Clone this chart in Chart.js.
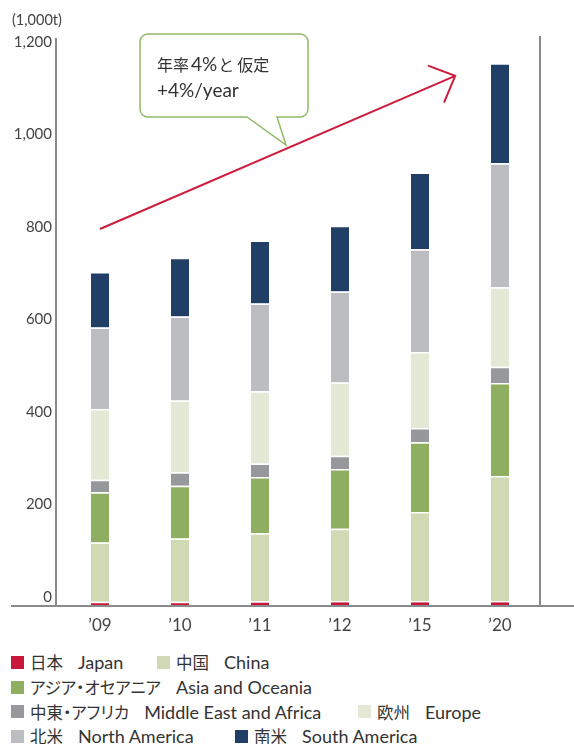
<!DOCTYPE html>
<html lang="ja">
<head>
<meta charset="utf-8">
<title>需要見通し</title>
<script src="https://cdn.jsdelivr.net/npm/chart.js@4.4.1/dist/chart.umd.min.js"></script>
<style>
    body {
        margin: 0;
        background: #fff;
        font-family: 'Lato', 'Noto Sans CJK JP', sans-serif;
        color: #333;
    }
    #grafico {
        position: relative;
        width: 574px;
        height: 645px;
    }
    #leyenda {
        position: absolute;
        left: 11px;
        top: 650px;
        width: 560px;
        font-size: 18px;
    }
    .fila {
        position: relative;
        height: 24.7px;
        white-space: nowrap;
    }
    .item {
        position: absolute;
        top: 0;
        height: 24.7px;
        display: flex;
        align-items: center;
    }
    .cuadro {
        width: 13px;
        height: 13px;
        margin-right: 6px;
    }
    .jp {
        font-family: 'Noto Sans CJK JP', sans-serif;
        font-size: 16.5px;
        font-feature-settings: "palt";
        margin-right: 15px;
    }
</style>
</head>
<body>
<div id="grafico"><canvas id="chartDemanda"></canvas></div>
<div id="leyenda"></div>
<script>

// =====================================================
// Datos (1,000t)
// =====================================================

const categorias = ["’09", "’10", "’11", "’12", "’15", "’20"];

const japon = [9, 9, 10, 11, 11, 11];
const china = [128, 137, 147, 156, 192, 270];
const asiaOceania = [109, 114, 122, 129, 151, 201];
const medioOriente = [27, 29, 29, 29, 31, 35];
const europa = [153, 155, 156, 158, 164, 172];
const norteamerica = [176, 182, 190, 197, 222, 268];
const sudamerica = [120, 127, 136, 142, 166, 216];

const ticksY = [0, 200, 400, 600, 800, 1000, 1200];

const nombresJp = ["日本", "中国", "アジア・オセアニア", "中東・アフリカ", "欧州", "北米", "南米"];
const nombresEn = ["Japan", "China", "Asia and Oceania", "Middle East and Africa", "Europe", "North America", "South America"];

// filas de la leyenda (indices de serie)
const filasLeyenda = [[0, 1], [2], [3, 4], [5, 6]];

document.addEventListener("DOMContentLoaded", () => {

    // =====================================================
    // Configuración Global
    // =====================================================

    Chart.defaults.font.family = "'Lato','Noto Sans CJK JP',sans-serif";
    Chart.defaults.color = "#444";
    Chart.defaults.animation = false;

    const colores = {
        japon: "#c8173a",
        china: "#cfdab4",
        asia: "#8eaf5f",
        medio: "#97989c",
        europa: "#e4e9d5",
        norte: "#bcbdc1",
        sur: "#213f66",
        eje: "#8a8a8a",
        flecha: "#cc1d3c",
        globo: "#8fba66",
        texto: "#333"
    };

    const series = [japon, china, asiaOceania, medioOriente, europa, norteamerica, sudamerica];
    const fondo = [colores.japon, colores.china, colores.asia, colores.medio, colores.europa, colores.norte, colores.sur];

    const fuenteJp = "16px 'Noto Sans CJK JP',sans-serif";
    const fuenteEn = "19px 'Lato',sans-serif";

    // escribe tramos con fuentes distintas en una misma linea
    function textoMixto(ctx, tramos, x, y) {
        tramos.forEach(([texto, fuente, espacio]) => {
            ctx.font = fuente;
            ctx.fillText(texto, x, y);
            x += ctx.measureText(texto).width + (espacio || 0);
        });
    }


    // =====================================================
    // Anotaciones: ejes, unidad, flecha y globo
    // =====================================================

    const anotaciones = {
        id: "anotaciones",
        afterDraw(chart) {
            const ctx = chart.ctx;
            const area = chart.chartArea;
            const x = chart.scales.x;
            const y = chart.scales.y;

            ctx.save();

            // ejes
            ctx.strokeStyle = colores.eje;
            ctx.lineWidth = 2;
            ctx.beginPath();
            ctx.moveTo(11, area.bottom);
            ctx.lineTo(chart.width, area.bottom);
            ctx.moveTo(56, area.top + 1);
            ctx.lineTo(56, area.bottom);
            ctx.stroke();

            // unidad
            ctx.fillStyle = "#444";
            ctx.font = "14.5px 'Lato','Noto Sans CJK JP',sans-serif";
            ctx.textBaseline = "middle";
            ctx.textAlign = "left";
            ctx.fillText("(1,000t)", 12, 20);

            // flecha de tendencia
            const x0 = x.getPixelForValue(0);
            const y0 = y.getPixelForValue(815);
            const x1 = x.getPixelForValue(4.44);
            const y1 = y.getPixelForValue(1146);
            const ang = Math.atan2(y1 - y0, x1 - x0);
            const largo = 29;
            const abre = 44 * Math.PI / 180;

            ctx.strokeStyle = colores.flecha;
            ctx.lineWidth = 2;
            ctx.beginPath();
            ctx.moveTo(x0, y0);
            ctx.lineTo(x1, y1);
            ctx.moveTo(x1 - largo * Math.cos(ang - abre), y1 - largo * Math.sin(ang - abre));
            ctx.lineTo(x1, y1);
            ctx.lineTo(x1 - largo * Math.cos(ang + abre), y1 - largo * Math.sin(ang + abre));
            ctx.stroke();

            // globo
            const gx = 140, gy = 34, gw = 168, gh = 83, r = 8;
            ctx.beginPath();
            ctx.moveTo(gx + r, gy);
            ctx.lineTo(gx + gw - r, gy);
            ctx.arcTo(gx + gw, gy, gx + gw, gy + r, r);
            ctx.lineTo(gx + gw, gy + gh - r);
            ctx.arcTo(gx + gw, gy + gh, gx + gw - r, gy + gh, r);
            ctx.lineTo(277, gy + gh);
            ctx.lineTo(286, 145);
            ctx.lineTo(247, gy + gh);
            ctx.lineTo(gx + r, gy + gh);
            ctx.arcTo(gx, gy + gh, gx, gy + gh - r, r);
            ctx.lineTo(gx, gy + r);
            ctx.arcTo(gx, gy, gx + r, gy, r);
            ctx.closePath();
            ctx.fillStyle = "#fff";
            ctx.fill();
            ctx.strokeStyle = colores.globo;
            ctx.lineWidth = 1.5;
            ctx.stroke();

            ctx.fillStyle = colores.texto;
            textoMixto(ctx, [
                ["年率", fuenteJp, 2],
                ["4%", fuenteEn, 1],
                ["と", fuenteJp, 3],
                ["仮定", fuenteJp, 0]
            ], 157, 65);
            textoMixto(ctx, [["+4%/year", fuenteEn, 0]], 157, 91);

            ctx.restore();
        }
    };


    // =====================================================
    // Gráfico
    // =====================================================

    new Chart(document.getElementById("chartDemanda"), {

        type: "bar",

        data: {
            labels: categorias,
            datasets: series.map((valores, i) => ({
                label: nombresEn[i],
                data: valores,
                backgroundColor: fondo[i],
                borderColor: "#fff",
                borderWidth: { top: 1.5, right: 0, bottom: 0, left: 0 },
                borderSkipped: false,
                barPercentage: 0.9,
                categoryPercentage: 0.25
            }))
        },

        options: {
            responsive: true,
            maintainAspectRatio: false,
            layout: {
                padding: { top: 37, left: 0, right: 0, bottom: 0 }
            },
            plugins: {
                legend: { display: false },
                tooltip: { enabled: false }
            },
            scales: {
                x: {
                    stacked: true,
                    grid: { display: false, drawTicks: false },
                    border: { display: false },
                    ticks: {
                        color: "#444",
                        font: { size: 17 },
                        padding: 9
                    },
                    afterFit: (s) => { s.height = 39; }
                },
                y: {
                    stacked: true,
                    min: 0,
                    max: 1230,
                    grid: { display: false, drawTicks: false },
                    border: { display: false },
                    ticks: {
                        stepSize: 200,
                        labelOffset: -9,
                        padding: 8,
                        color: "#444",
                        font: { size: 15 },
                        callback: (v) => v.toLocaleString("en-US")
                    },
                    afterBuildTicks: (s) => {
                        s.ticks = ticksY.map((v) => ({ value: v }));
                    },
                    afterFit: (s) => { s.width = 60; }
                },
                derecha: {
                    position: "right",
                    grid: { display: false, drawTicks: false },
                    ticks: { display: false },
                    border: { color: colores.eje, width: 2 },
                    afterFit: (s) => { s.width = 34; }
                }
            }
        },

        plugins: [anotaciones]

    });


    // =====================================================
    // Leyenda
    // =====================================================

    const leyenda = document.getElementById("leyenda");

    // columna donde empieza el segundo item de cada fila
    const segundaColumna = [146, 0, 347, 224];

    filasLeyenda.forEach((fila, f) => {
        const div = document.createElement("div");
        div.className = "fila";
        fila.forEach((i, k) => {
            const item = document.createElement("span");
            item.className = "item";
            item.style.left = (k === 0 ? 0 : segundaColumna[f]) + "px";
            item.innerHTML =
                `<span class="cuadro" style="background:${fondo[i]}"></span>` +
                `<span class="jp">${nombresJp[i]}</span>` +
                `<span>${nombresEn[i]}</span>`;
            div.appendChild(item);
        });
        leyenda.appendChild(div);
    });

});
</script>
</body>
</html>
